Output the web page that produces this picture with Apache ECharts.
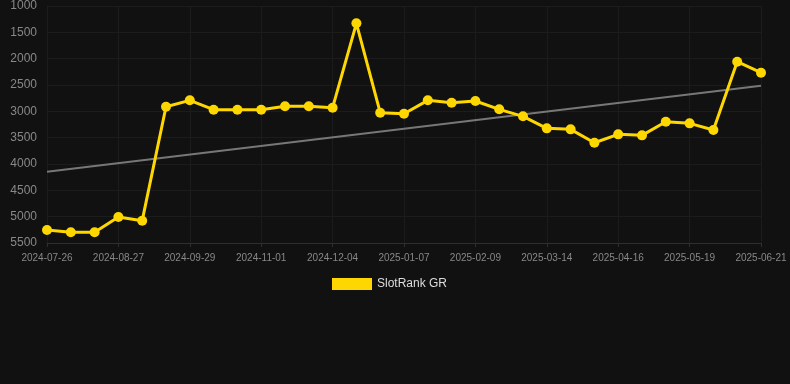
<!DOCTYPE html>
<html><head><meta charset="utf-8">
<script src="https://cdn.jsdelivr.net/npm/echarts@6/dist/echarts.min.js"></script>
<style>html,body{margin:0;padding:0;background:#111111;}#c{width:790px;height:384px;}</style>
</head><body><div id="c"></div>
<script>
const categories = ['2024-07-26','2024-08-06','2024-08-16','2024-08-27','2024-09-07','2024-09-18','2024-09-29','2024-10-10','2024-10-21','2024-11-01','2024-11-12','2024-11-23','2024-12-04','2024-12-15','2024-12-26','2025-01-07','2025-01-18','2025-01-29','2025-02-09','2025-02-20','2025-03-03','2025-03-14','2025-03-25','2025-04-05','2025-04-16','2025-04-27','2025-05-08','2025-05-19','2025-05-30','2025-06-10','2025-06-21'];
const rankValues = [5253,5297,5297,5006,5076,2912,2791,2969,2969,2969,2905,2905,2931,1329,3026,3045,2791,2836,2804,2962,3095,3323,3342,3596,3437,3456,3197,3228,3355,2057,2266];
const trendStart = 4146;
const trendEnd = 2513;
const yTicks = [1000,1500,2000,2500,3000,3500,4000,4500,5000,5500];

const trendData = categories.map((c,i)=> i===0 ? trendStart : (i===categories.length-1 ? trendEnd : null));

const chart = echarts.init(document.getElementById('c'));
chart.setOption({
  backgroundColor:'#111111',
  animation:false,
  grid:{left:47,right:29,top:6,bottom:141,containLabel:false},
  legend:{
    data:['SlotRank GR'], top:278, left:332, padding:0,
    itemWidth:40, itemHeight:12, icon:'rect', itemGap:6,
    textStyle:{color:'#dddddd',fontSize:12,fontFamily:'Arial, Liberation Sans, sans-serif'}
  },
  xAxis:{
    type:'category', data:categories, boundaryGap:false,
    axisLine:{show:true,lineStyle:{color:'#2e2e2e'}},
    axisTick:{show:true,interval:2,length:4,lineStyle:{color:'#2e2e2e'}},
    axisLabel:{interval:2,color:'#888888',fontSize:10,margin:10,fontFamily:'Arial, Liberation Sans, sans-serif'},
    splitLine:{show:true,interval:2,lineStyle:{color:'#1c1c1c',width:1}}
  },
  yAxis:{
    type:'value', inverse:true, min:yTicks[0], max:yTicks[yTicks.length-1], interval:500,
    axisLine:{show:false}, axisTick:{show:false},
    axisLabel:{color:'#888888',fontSize:12,margin:10,formatter:v=>String(v),fontFamily:'Arial, Liberation Sans, sans-serif'},
    splitLine:{lineStyle:{color:'#1c1c1c',width:1}}
  },
  series:[
    {name:'SlotRank GR',type:'line',data:rankValues,
     itemStyle:{color:'#FFD700'},lineStyle:{color:'#FFD700',width:3},
     symbol:'circle',symbolSize:10,z:3},
    {name:'trend',type:'line',data:trendData,connectNulls:true,
     symbol:'none',lineStyle:{color:'#777777',width:2},z:2}
  ]
});
</script></body></html>
